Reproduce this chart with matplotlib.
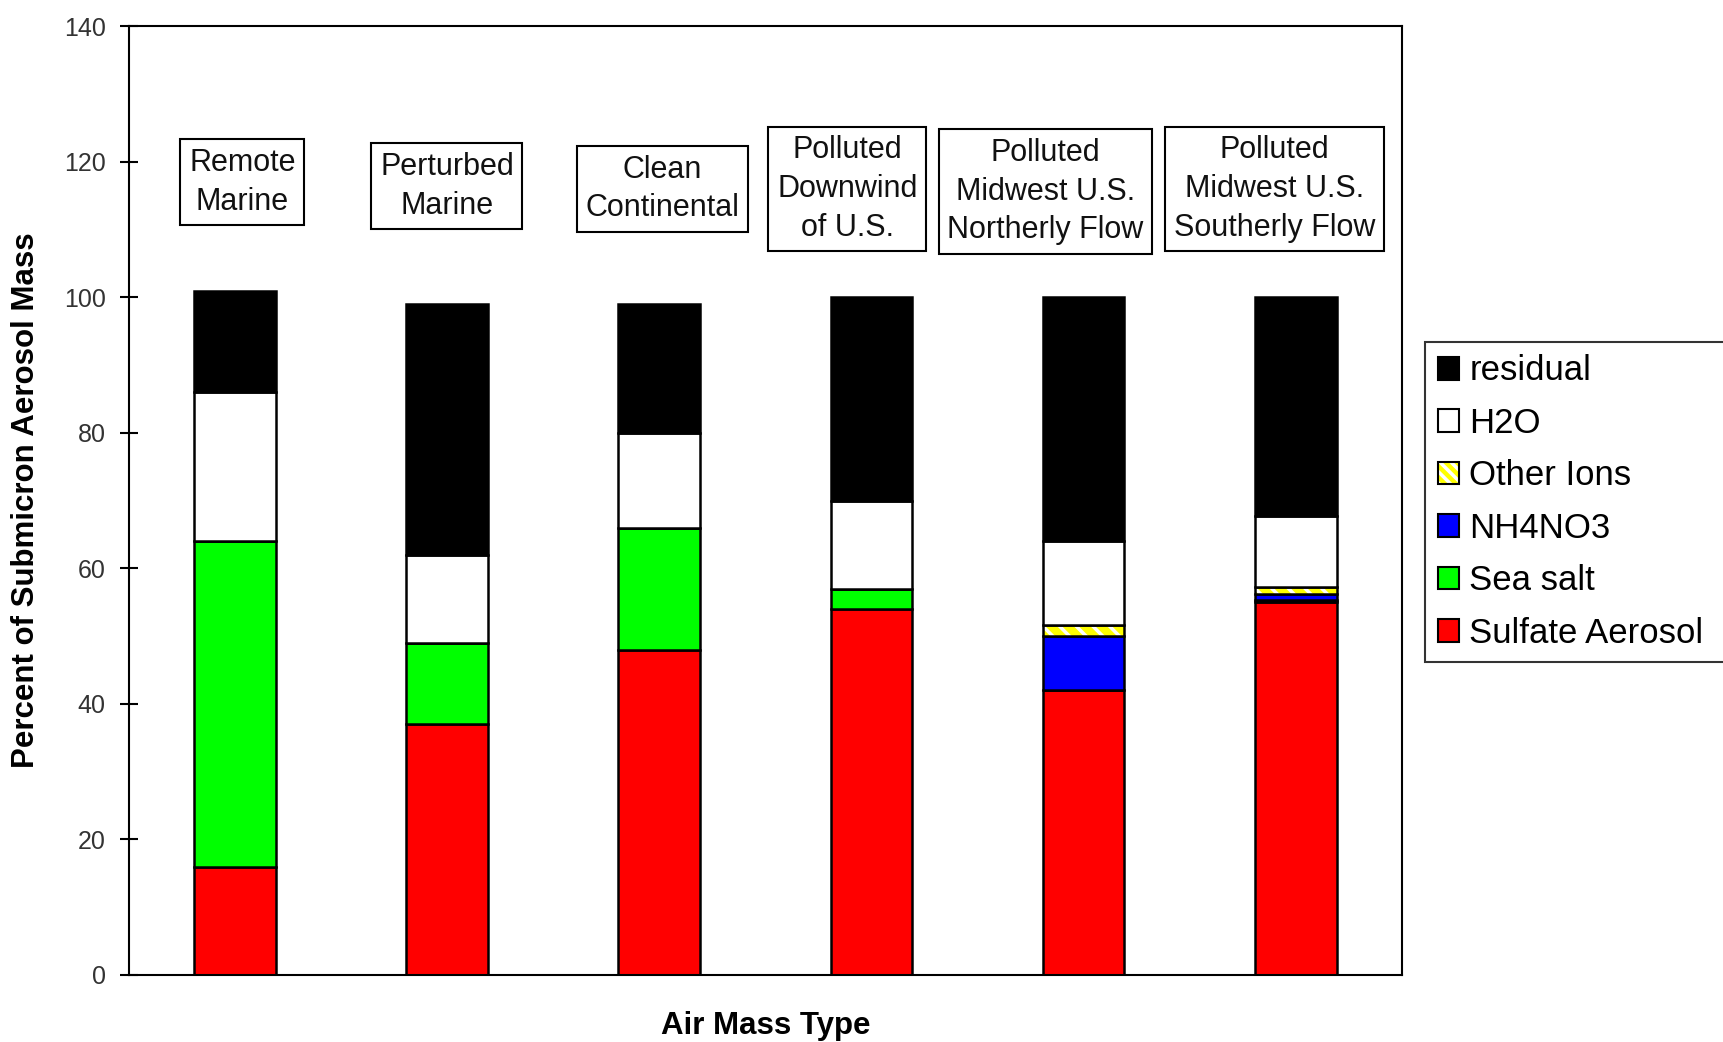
import matplotlib.pyplot as plt
import numpy as np
from matplotlib.patches import Patch

plt.rcParams['font.family'] = ['Liberation Sans', 'DejaVu Sans']
plt.rcParams['hatch.linewidth'] = 2.5

# air mass types (bar labels) and composition in percent of submicron mass
air_masses = ['Remote\nMarine', 'Perturbed\nMarine', 'Clean\nContinental',
              'Polluted\nDownwind\nof U.S.', 'Polluted\nMidwest U.S.\nNortherly Flow',
              'Polluted\nMidwest U.S.\nSoutherly Flow']
sulfate = [16, 37, 48, 54, 42, 55]
sea_salt = [48, 12, 18, 3, 0, 0.4]
nh4no3 = [0, 0, 0, 0, 8, 0.8]
other_ions = [0, 0, 0, 0, 1.6, 1.0]
h2o = [22, 13, 14, 13, 12.4, 10.6]
residual = [15, 37, 19, 30, 36, 32.2]

series = [
    ('Sulfate Aerosol', sulfate, '#ff0000'),
    ('Sea salt', sea_salt, '#00ff00'),
    ('NH4NO3', nh4no3, '#0000ff'),
    ('Other Ions', other_ions, '#ffff00'),
    ('H2O', h2o, '#ffffff'),
    ('residual', residual, '#000000'),
]

fig = plt.figure(figsize=(17.23, 10.42), dpi=100)
ax = fig.add_axes([0.0746, 0.0643, 0.7391, 0.9104])

x = np.arange(len(air_masses))
width = 0.385
bottom = np.zeros(len(air_masses))
for name, vals, color in series:
    vals = np.array(vals, dtype=float)
    if name == 'Other Ions':
        # yellow with white diagonal stripes, then a black outline on top
        ax.bar(x, vals, width, bottom=bottom, color=color, edgecolor='white',
               hatch='\\\\', linewidth=0)
        ax.bar(x, vals, width, bottom=bottom, fill=False, edgecolor='black',
               linewidth=1.8)
    else:
        ax.bar(x, vals, width, bottom=bottom, color=color, edgecolor='black',
               linewidth=1.8)
    bottom += vals

# boxed category names above the bars (a few sit slightly off-centre)
label_x = [0.036, 1.0, 2.015, 2.886, 3.82, 4.90]
label_y = [117, 116.4, 116, 116, 115.6, 116]
for lx, ly, txt in zip(label_x, label_y, air_masses):
    ax.text(lx, ly, txt, ha='center', va='center', fontsize=22, linespacing=1.38,
            color='#111111',
            bbox=dict(boxstyle='square,pad=0.28', facecolor='white',
                      edgecolor='black', linewidth=1.5))

ax.set_xlim(-0.5, len(air_masses) - 0.5)
ax.set_ylim(0, 140)
ax.set_yticks(np.arange(0, 141, 20))
ax.set_xticks([])
ax.tick_params(axis='y', direction='inout', length=13, width=1.5, labelsize=18,
               pad=10, colors='black', labelcolor='#333333')
for sp in ax.spines.values():
    sp.set_linewidth(1.5)

fig.text(26 / 1723, 0.5 * (0.0643 + 0.9747), 'Percent of Submicron Aerosol Mass',
         rotation=90, ha='center', va='center', fontsize=22.5, fontweight='bold')
fig.text(0.4445, 0.0154, 'Air Mass Type', ha='center', va='center', fontsize=22.5,
         fontweight='bold')

# legend listed top-down in reverse stacking order
handles = []
labels = []
for name, vals, color in reversed(series):
    if name == 'Other Ions':
        h = (Patch(facecolor=color, edgecolor='white', hatch='\\\\\\', linewidth=0),
             Patch(fill=False, edgecolor='black', linewidth=1.5))
    else:
        h = Patch(facecolor=color, edgecolor='black', linewidth=1.5)
    handles.append(h)
    labels.append(name)

# the legend box runs past the right edge of the figure
leg_top = 1 - 342 / 1042
leg = fig.legend(handles, labels, loc='upper left', mode='expand',
                 bbox_to_anchor=(1425 / 1723, leg_top - 0.5, 0.176, 0.5),
                 fontsize=25, frameon=True, fancybox=False, borderaxespad=0,
                 handlelength=0.62, handleheight=0.62, handletextpad=0.3,
                 labelspacing=0.56, borderpad=0.36)
leg.get_frame().set_edgecolor('black')
leg.get_frame().set_linewidth(1.5)

fig.savefig('out.png', dpi=100)
